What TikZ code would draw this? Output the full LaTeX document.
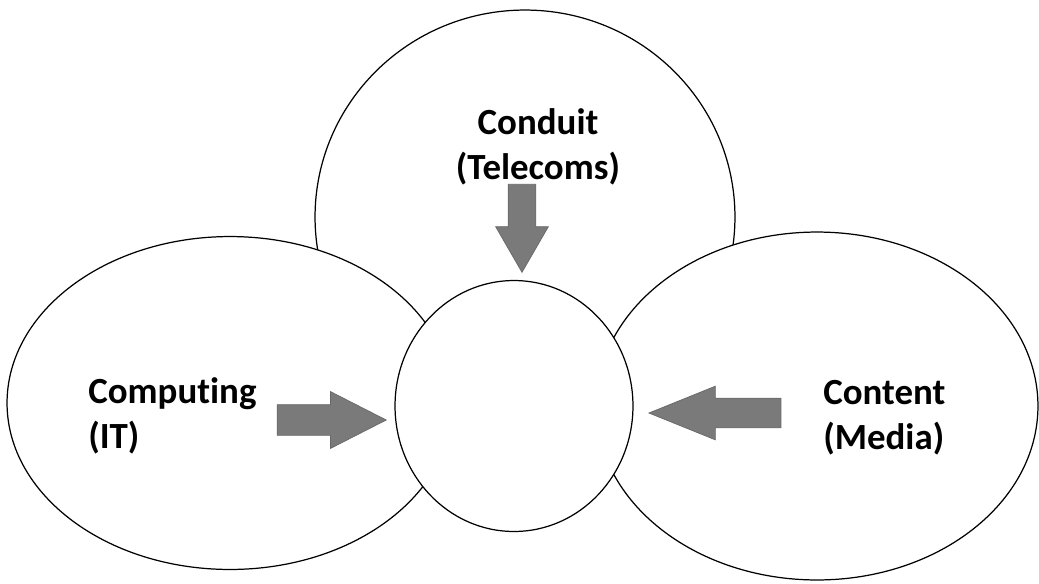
\documentclass[tikz,border=0pt]{standalone}
\usepackage{fontspec}
\setmainfont[Ligatures=NoCommon]{Carlito}
\usetikzlibrary{shapes, arrows.meta, positioning}
\definecolor{arrowgray}{HTML}{7A7A7A}
\tikzstyle{blob}=[draw,fill=white,ellipse,inner sep=0,line width=.7pt]
\tikzstyle{fat}=[single arrow,fill=arrowgray,draw=arrowgray!85!black,inner xsep=0,single arrow head indent=0,anchor=tip]
\tikzstyle{every node}=[font=\fontsize{21}{25.5}\selectfont\bfseries]

\begin{document}
\begin{tikzpicture}[x=0.02cm,y=-0.02cm]
  \useasboundingbox (0,0) rectangle (1039,583);
  \node[blob, minimum width=8.4cm, minimum height=8.28cm] (conduit) at (525,217) {};
  \node[blob, minimum width=8.92cm, minimum height=6.66cm] (computing) at (230,403) {};
  \node[blob, minimum width=8.84cm, minimum height=6.96cm] (content) at (817,406) {};
  \node[blob, minimum width=4.76cm, minimum height=5.02cm] (hub) at (514,406) {};
  % block arrows
  \node[fat, rotate=-90, inner ysep=.27cm, minimum height=1.76cm,
        single arrow head extend=.25cm, single arrow tip angle=60] (downarr) at (522,273) {};
  \node[fat, inner ysep=.3cm, minimum height=2.18cm,
        single arrow head extend=.26cm, single arrow tip angle=54] (rightarr) at (387,420) {};
  \node[fat, rotate=180, inner ysep=.29cm, minimum height=2.64cm,
        single arrow head extend=.24cm, single arrow tip angle=44] (leftarr) at (648,413) {};
  % labels
  \node[align=center, inner sep=0] (telecoms) at (538,147) {Conduit\\(Telecoms)};
  \node[align=left, inner sep=0, anchor=west] (it) at (88,416) {Computing\\(IT)};
  \node[align=left, inner sep=0, anchor=west] (media) at (823,418) {Content\\(Media)};
\end{tikzpicture}
\end{document}
